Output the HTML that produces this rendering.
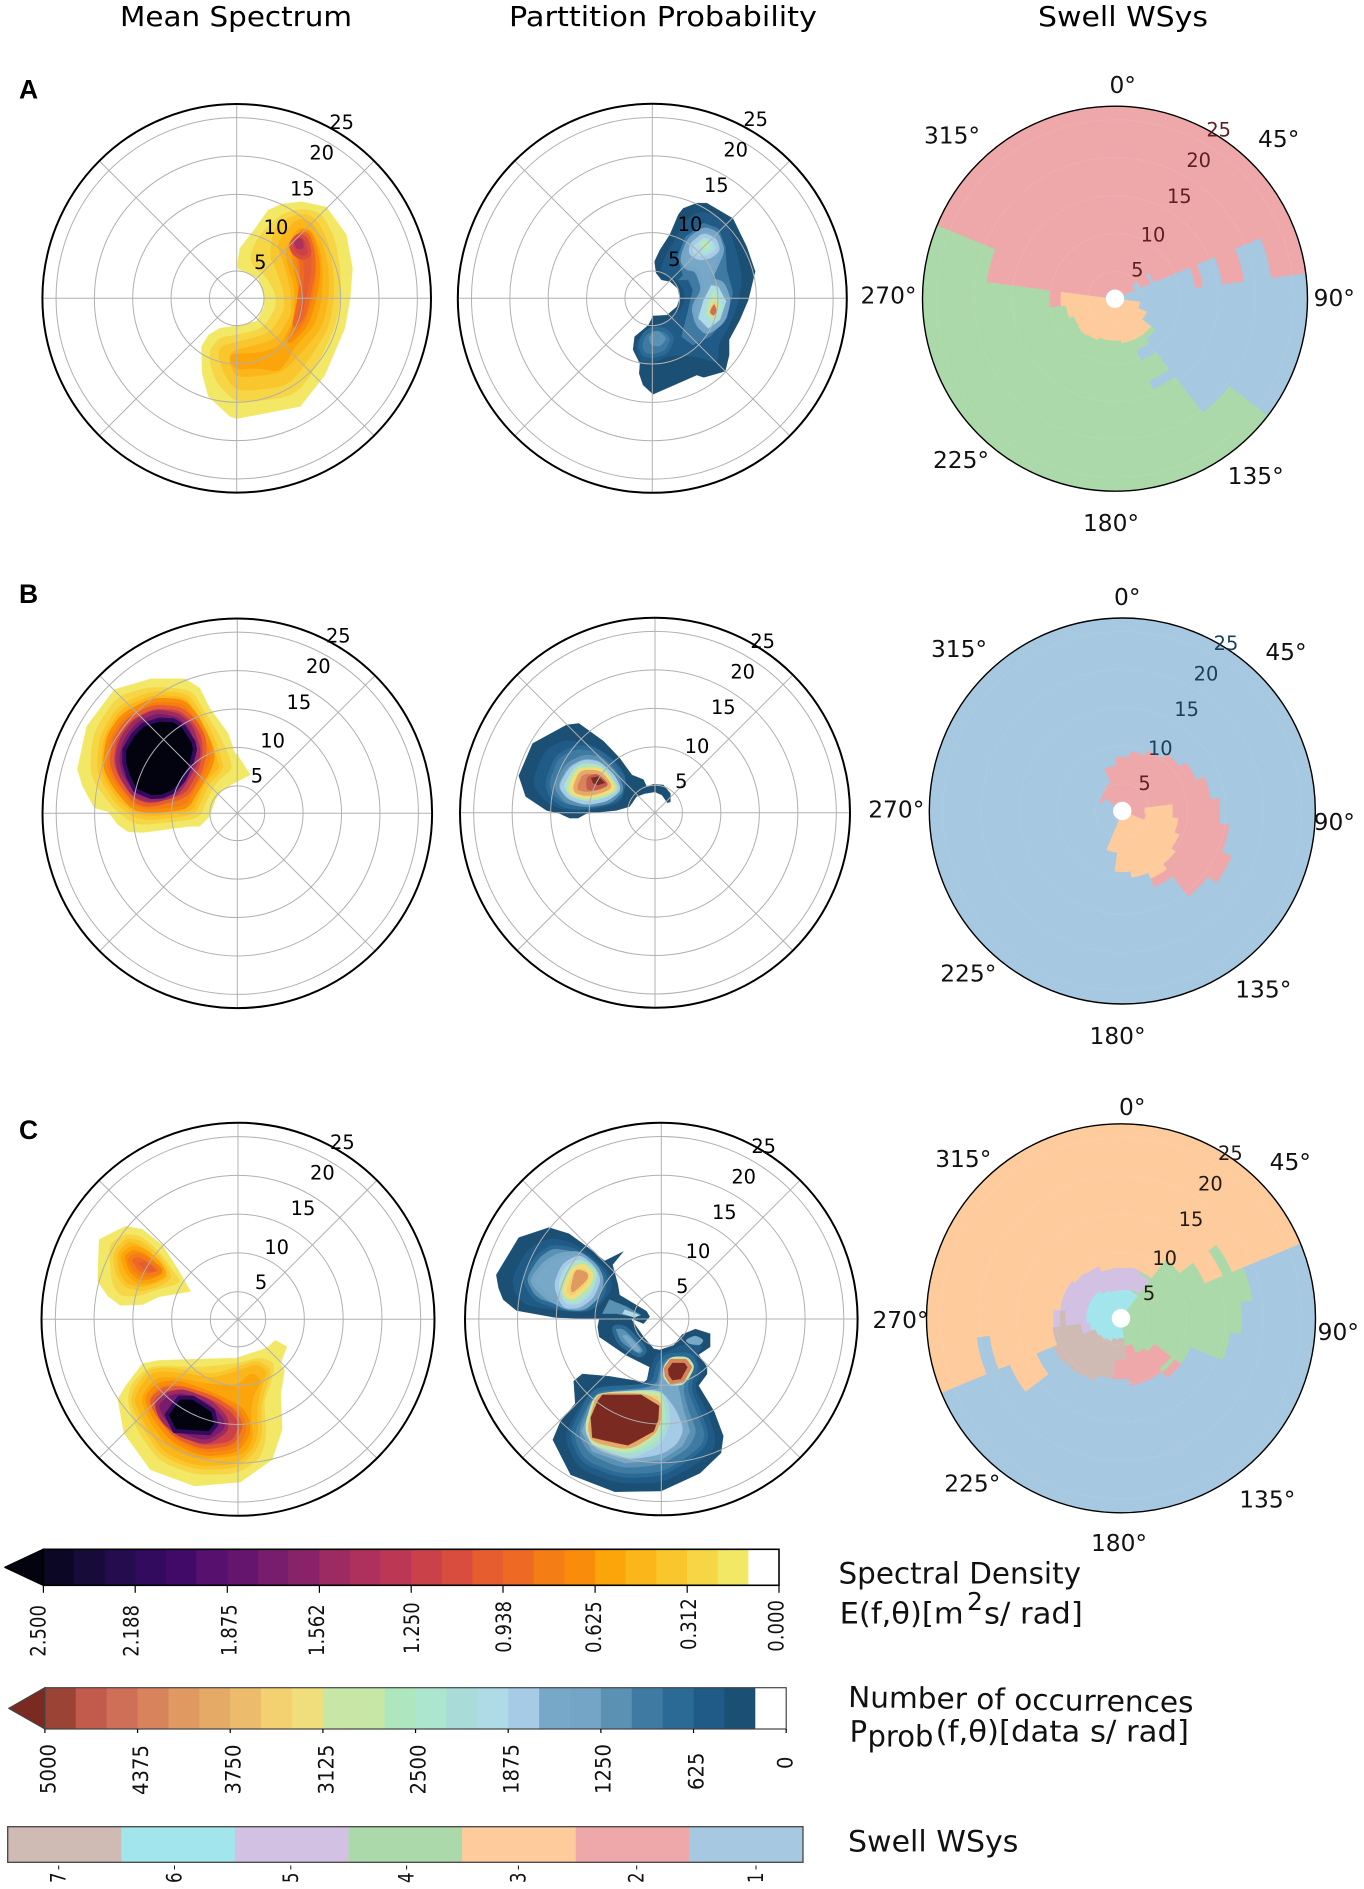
<!DOCTYPE html>
<html lang="en">
<head>
<meta charset="utf-8">
<title>Mean Spectrum, Partition Probability and Swell Wave Systems</title>
<style>
  html, body { margin: 0; padding: 0; background: #fff; }
  svg { display: block; font-family: "DejaVu Sans", "Liberation Sans", sans-serif; }
</style>
</head>
<body>
<svg id="figure" xmlns="http://www.w3.org/2000/svg" width="1364" height="1889" viewBox="0 0 1364 1889">
  <rect x="0" y="0" width="1364" height="1889" fill="#ffffff"/>
  <g id="panels"></g>
  <g id="colorbars"></g>

  <text x="120" y="26" font-size="28" textLength="232" lengthAdjust="spacingAndGlyphs">Mean Spectrum</text>
  <text x="509" y="26" font-size="28" textLength="308" lengthAdjust="spacingAndGlyphs">Parttition Probability</text>
  <text x="1038" y="26" font-size="28" textLength="170" lengthAdjust="spacingAndGlyphs">Swell WSys</text>

  <g font-family="'Liberation Sans', sans-serif" font-weight="700" font-size="26.5">
    <text x="19" y="98.3">A</text>
    <text x="19" y="603">B</text>
    <text x="19" y="1139">C</text>
  </g>

  <g font-size="29" fill="#111">
    <text x="838.5" y="1583.3" textLength="242.5" lengthAdjust="spacingAndGlyphs">Spectral Density</text>
    <g>
      <text x="839.6" y="1623.3" textLength="124" lengthAdjust="spacingAndGlyphs">E(f,θ)[m</text>
      <text x="967" y="1610" font-size="25">2</text>
      <text x="984" y="1623.3" textLength="98.8" lengthAdjust="spacingAndGlyphs">s/ rad]</text>
    </g>
    <text x="848" y="1707" transform="rotate(0.9 848 1707)" textLength="345.4" lengthAdjust="spacingAndGlyphs">Number of occurrences</text>
    <g>
      <text x="849.6" y="1741.7">P</text>
      <text x="867.5" y="1746.7" textLength="65.9" lengthAdjust="spacingAndGlyphs">prob</text>
      <text x="935.7" y="1741.7" textLength="253.3" lengthAdjust="spacingAndGlyphs">(f,θ)[data s/ rad]</text>
    </g>
    <text x="848" y="1851.7" textLength="170.4" lengthAdjust="spacingAndGlyphs">Swell WSys</text>
  </g>
</svg>

<script>
/* ---------- axis values ---------- */
const radialTicks = [5, 10, 15, 20, 25];
const angleTicks = [0, 45, 90, 135, 180, 225, 270, 315];
const V_ORIGIN = 1.44;
const V_SPAN = 25.34;
const V_HOLE = 2.65;

/* ---------- colour scales ---------- */
const bandsE = ['#0b0724','#160b39','#240c4f','#320a5e','#420a68','#57106e','#65156e','#781c6d','#892369','#9c2a63','#ae305c','#bb3754','#cb4149','#d94d3e','#e65d2f','#ee6a24','#f57d15','#f98c0a','#fca50a','#fbb61a','#fac62d','#f6d645','#f2e866','#ffffff'];
const bandsP = ['#9b4436','#c25b4c','#d06f58','#d8835c','#e09960','#e5aa66','#ecbc6c','#f3d070','#f0dd7c','#c8e6a6','#c6e7a6','#aee6bd','#ace6cf','#a9dcd8','#aedbe6','#a6cbe6','#78a8c8','#74a5c6','#5b92b4','#3f7aa3','#2a6a95','#1f5b86','#1b4f73','#ffffff'];
const maxE = 2.5;
const maxP = 5000;
const extendE = '#02030f';
const extendP = '#7a2a20';
const ticksE = [2.5, 2.188, 1.875, 1.562, 1.25, 0.938, 0.625, 0.312, 0];
const tickLabelsE = ['2.500','2.188','1.875','1.562','1.250','0.938','0.625','0.312','0.000'];
const ticksP = [5000, 4375, 3750, 3125, 2500, 1875, 1250, 625, 0];
const tickLabelsP = ['5000','4375','3750','3125','2500','1875','1250','625','0'];
const partitionIds = [7, 6, 5, 4, 3, 2, 1];
const partitionColors = {1:'#a6c8e0', 2:'#eea8aa', 3:'#fecb9d', 4:'#acd9a9', 5:'#d2c1e2', 6:'#a2e5ec', 7:'#d0bab4'};

/* ---------- contour levels: v = level, pts = east,north pairs (period units) ---------- */
const spectrumA = [
 {v:.15, pts:[0.1,4.6, 0.4,6.5, 2.4,9.1, 4.1,11.5, 5.9,12.3, 8.5,12.6, 11.7,11.9, 14.3,8.3, 15.1,3.9, 14.8,0, 14.1,-3.9, 11.5,-10, 8.3,-14.1, 0,-15.7, -0.9,-15.4, -3.7,-12.8, -4.5,-9.8, -4.6,-6.3, -3.7,-4.8, -2.2,-3.9, 0,-3.6, 2.6,-3, 3.6,-1.1, 3.6,0.2, 2.8,2.6, 1.5,3.3, 0.1,3.9]},
 {v:.26, pts:[1.7,5.4, 2.6,7.6, 3.9,9.3, 6.1,11.1, 8.5,11.7, 11.1,11.1, 12.8,7.8, 13.5,3.9, 13.6,0, 12.8,-3.9, 10,-9.6, 7.4,-12.8, 0,-13.7, -2.6,-11.1, -3.5,-8.5, -3.5,-6.7, -2.2,-5.1, 0,-4.8, 3.5,-3.9, 5.2,-1.1, 5,0.7, 3.9,2.8, 2.2,4.1]},
 {v:.36, pts:[4.3,5.4, 4.8,8.9, 6.5,10.4, 8.5,11.1, 10.4,10.4, 12,7.2, 12.6,3.7, 12.7,0, 12,-3.9, 9.1,-8.5, 6.5,-11.5, 0,-12.2, -1.7,-9.8, -2.4,-7.6, -2.2,-6.3, 0,-5.7, 4.3,-4.6, 6.3,-1.5, 6.1,1.1, 5,4.1]},
 {v:.47, pts:[5.2,7.2, 7.4,10, 8.5,10.4, 10,9.8, 11.3,7, 12,3.7, 12,0, 11.1,-3.9, 8,-7.6, 5.7,-9.8, 0,-10.4, -0.9,-8.5, -0.9,-7.2, 0,-6.7, 5.2,-5.4, 7.2,-2, 7,1.5, 6.1,4.6]},
 {v:.57, pts:[6.3,6.3, 8,9.3, 9.8,8.9, 10.9,6.3, 11.2,3.5, 11.1,0, 10.2,-3.5, 7.6,-6.3, 6.5,-8.3, 5.4,-9.6, 2.6,-9.1, 0,-9.3, -0.9,-8.3, -0.7,-7.2, 2.6,-7.2, 5.7,-6.3, 7.4,-2.8, 7.6,1.5, 6.7,4.1]},
 {v:.78, pts:[7.4,6.7, 8.5,8.9, 9.6,8.5, 10.4,5.9, 10.7,3.5, 10.2,0, 9.1,-3.5, 6.5,-6.1, 8,-2.4, 8.3,1.5, 7.6,4.1]},
 {v:.99, pts:[7.8,7, 8.3,8.5, 9.3,8.3, 10,5.9, 10,3.3, 9.3,0, 8.7,-2.4, 7.4,-3.9, 8,-1.1, 8.5,2, 8.5,4.6]},
 {v:1.2, pts:[7,7, 8,8.3, 9.1,7.8, 9.6,5.7, 8.5,5.2, 7.4,5.9]},
 {v:1.41, pts:[7.4,7.4, 8.5,8, 8.8,6.5, 7.8,6.4]}
];
const probabilityA = [
 {v:312, pts:[0.3,4.8, 1,6.3, 2.3,8.3, 3.4,10.9, 4,11.7, 5.8,12.4, 7.1,12.4, 10.5,10.4, 12.3,6.7, 13.4,3.5, 12.5,-0.2, 11.4,-2.8, 10,-5.4, 10,-7.4, 9.5,-9.5, 6.7,-10.3, 5.8,-10, 0.1,-12.5, -1.2,-11.3, -1.7,-9.8, -1.6,-8.5, -2.5,-6.7, -2.3,-5, -0.5,-3.5, 0.1,-2.3, 1.9,-2.2, 3.2,-1.1, 3.6,0, 3.3,1.3, 2.3,2.2, 1.2,2.4, 0.5,3.3]},
 {v:520, pts:[1.1,3.9, 1.9,5.9, 3.2,8, 4.3,10.2, 6,11.3, 8.4,10.9, 10.1,8.9, 11,5.9, 11.7,2.8, 11.2,-0.7, 9.9,-3.9, 8.6,-5.9, 8.6,-8.5, 5.8,-7.6, 2.3,-7.4, 0.1,-8.5, -1.6,-8.3, -2.3,-5.9, -0.3,-3.7, 2.3,-2.8, 4,-1.1, 4.3,0.7, 3.2,2.4, 1.4,3.3]},
 {v:937, pts:[-1.6,-6.1, -1.1,-4.7, 0.1,-3.9, 1.7,-4.1, 2.7,-5.2, 1.9,-7, 0.1,-7.6, -1.2,-7.3]},
 {v:937, pts:[3.4,2.4, 4,3, 3.3,5.4, 4.3,8, 6.7,9.8, 8.6,9.1, 9.5,6.7, 9.7,3.7, 10.5,0.7, 9.7,-2.6, 7.5,-5, 5.3,-6.1, 3.8,-5, 4.7,-1.5, 5.3,1.1, 4.7,2.4]},
 {v:1146, pts:[-0.5,-5, 0.6,-4.1, 1.9,-5.2, 1,-6.3, -0.2,-6.1]},
 {v:1562, pts:[3.8,5, 4.7,7.6, 6.7,9.1, 8.4,8.5, 9.2,6.3, 8.6,4.8, 7.5,2.4, 9.2,2, 10,-0.2, 9.3,-3, 7.1,-4.6, 5.8,-3.3, 5.3,-1.1, 6.7,1.1, 5.8,3.7, 4.5,3.9]},
 {v:1980, pts:[5.1,7, 6.7,8.3, 8.2,7.6, 8.6,6.3, 7.5,5.4, 6,5.2, 5,5.9]},
 {v:1980, pts:[6.7,-0.2, 7.7,1.7, 8.6,1.5, 9.6,-0.4, 8.8,-2.8, 7.3,-3.9, 6,-2.6]},
 {v:2396, pts:[6,7.2, 6.9,7.8, 7.7,7.2, 7.7,6.3, 6.7,5.9]},
 {v:2396, pts:[7.1,-0.7, 8,1.3, 8.6,0.7, 9.2,-1.1, 8.2,-3.3, 6.9,-2.2]},
 {v:3020, pts:[6.4,7.2, 7.1,7.4, 7.4,6.7, 6.7,6.5]},
 {v:3020, pts:[7.4,-0.7, 8,0.7, 8.7,-1.1, 8,-2.8, 7.2,-2]},
 {v:3437, pts:[7.6,-1.1, 8.2,-0.2, 8.6,-1.5, 8,-2.6, 7.3,-1.9]},
 {v:4479, pts:[7.7,-1.3, 8.1,-0.7, 8.4,-1.7, 8,-2.3, 7.5,-1.9]}
];
const spectrumB = [
 {v:.15, pts:[0,7.6, 1.7,5, -0.1,4.1, -2,3, -2.9,1.7, -3.6,-0.4, -4.9,-1.7, -6.2,-1.7, -12.3,-2.5, -14.2,-2.4, -15.5,-1.5, -16.8,0.2, -18.6,0.7, -20.1,3.5, -20.8,5.7, -19.6,11.3, -16,16.1, -11.2,17.5, -6.8,17.5, -4.9,16.3, -3.6,13.7, -1.2,10.4, -0.3,7.8]},
 {v:.26, pts:[-0.9,7, -0.7,5.7, -2.7,4.1, -4,1.7, -4.9,-0.7, -11.8,-1.5, -13.6,-1.3, -16.2,0.7, -19.2,4.8, -18.8,10.4, -15.7,15.2, -11.2,16.5, -6,16.1, -4.4,13.5, -2,9.6]},
 {v:.47, pts:[-2.3,7, -2,5.9, -3.8,4.1, -4.9,1.7, -5.7,0, -11.4,-0.7, -13.6,-0.2, -15.7,1.5, -18.1,5.2, -17.7,10, -15.3,13.9, -11,15.7, -6.6,15.4, -4.9,13, -3.1,9.6]},
 {v:.78, pts:[-3.1,7.4, -3.8,5.4, -5.3,3, -6.6,0.7, -11.4,0.2, -13.6,0.7, -16,3.5, -17.3,6.1, -16.8,10, -14.9,12.8, -11,14.8, -7,14.6, -5.3,12.6, -3.8,9.6]},
 {v:1.2, pts:[-4.2,7.8, -4.9,5.2, -6.6,2.2, -11.4,1, -13.3,1.5, -15.5,4.3, -16.4,6.5, -16,9.6, -14.2,12.2, -11,13.9, -7.5,13.7, -5.5,12, -4.4,10]},
 {v:1.72, pts:[-4.9,8, -5.7,5.9, -7.9,2.4, -11.2,1.5, -13.6,2.4, -15.3,5.2, -15.7,7.4, -14.9,10, -13.1,12.2, -10.5,13.3, -7.7,12.8, -6,11.3]},
 {v:2.6, pts:[-11.2,2.1, -13.3,3, -14.2,4.8, -14.7,6.5, -14.7,8.3, -13.6,10.2, -12.3,11.5, -10.1,12.2, -8.3,12.1, -7,11.3, -5.7,9.3, -5.5,8.3, -6,6.3, -7,4.3, -8.3,2.8, -9.7,2.2]}
];
const probabilityB = [
 {v:312, pts:[-17.7,4.8, -15.9,9, -11.5,11.4, -9.9,11.6, -6.7,9.3, -4.6,7.1, -3,4.9, -1.5,4.3, -1.1,3.4, -0.2,3.7, 1.1,3.6, 2,2.5, 2,1.4, 1.6,1.3, 0.9,2.3, 0,2.7, -1.3,2.5, -2.4,2.1, -3.3,0.8, -5,0.3, -8.9,-0.1, -10,-0.7, -11.1,-0.7, -12.4,-0.1, -14.1,0.3, -16.8,2.1]},
 {v:520, pts:[-16,4, -14.3,8.2, -11.7,9.5, -8.5,9, -5.2,6.9, -3.7,4.7, -4.3,1.2, -8.9,0.3, -12,0.3, -14.6,1.7]},
 {v:937, pts:[-14.1,3.8, -12.8,7.3, -10.2,8.6, -7.6,8.2, -5.4,6.4, -3.9,4.3, -4.6,1.7, -8.9,0.6, -11.7,0.8, -13.5,2.1]},
 {v:1562, pts:[-13,3.4, -11.5,6.2, -9.3,7.3, -7.2,7.1, -5.2,5.1, -4.2,3, -5.9,1.4, -8.9,0.9, -11.5,1.4]},
 {v:1980, pts:[-12.3,3.4, -10.9,5.8, -9.1,6.7, -7.2,6.4, -5.4,4.7, -4.6,3, -6.3,1.7, -8.9,1.2, -11.1,1.9]},
 {v:3020, pts:[-11.6,3.4, -10.4,5.6, -9.3,6.2, -7.2,6, -5.9,4.7, -4.9,3, -6.7,2.1, -8.9,1.7, -10.9,2.3]},
 {v:3437, pts:[-11.1,3.2, -10,5.6, -7.2,5.7, -6.3,4.7, -5.2,3.2, -6.7,2.4, -8.9,2, -10.7,2.5]},
 {v:4270, pts:[-10.4,3.4, -9.6,5.3, -7.2,5.3, -5.7,3.4, -7.2,2.7, -8.9,2.4, -10.2,2.7]},
 {v:4687, pts:[-8.9,4.7, -7.4,5.1, -5.9,3.6, -7.6,2.9, -8.9,2.9]},
 {v:5100, pts:[-8.3,4.5, -7.4,4.7, -6.5,3.9, -7.4,3.6, -8,3.8]}
];
const spectrumC = [
 {v:.15, pts:[-17.9,10.3, -14.5,12, -12.3,11.6, -9.7,9.5, -7.6,6.2, -6.1,3.6, -10.2,2.9, -12.3,1.9, -15.2,1.8, -16.8,3, -18.1,4.9]},
 {v:.26, pts:[-16.7,9.7, -14.5,11, -12.6,10.8, -10.2,8.8, -8.2,6, -7.3,4.7, -10.6,3.8, -12.8,3, -15.2,3, -16.3,4.7]},
 {v:.47, pts:[-15.9,8.6, -14.3,10.3, -12.6,9.9, -10.4,8.2, -8.7,5.6, -9.7,4.7, -12.3,3.8, -14.5,4.3, -15.6,6]},
 {v:.68, pts:[-15,8.2, -13.7,9.3, -11.9,8.8, -10.2,7.3, -9.3,5.8, -11,4.9, -12.8,4.7, -14.3,6]},
 {v:.89, pts:[-14.1,7.7, -13,8.4, -11.5,7.7, -9.7,6.2, -11.5,5.6, -13,6]},
 {v:.99, pts:[-13,7.3, -11.9,7.5, -10.4,6.2, -11.9,6.2]},
 {v:.15, pts:[-12.3,-5.7, -10.2,-5.3, -4.1,-5.1, -0.2,-5, 3.7,-3.7, 4.8,-2.7, 6.3,-3.5, 5.5,-5.7, 6,-6.6, 5.5,-9.7, 5.7,-14.2, 4.4,-18.1, 0.3,-21, -5.6,-21.5, -11.3,-19.4, -14.7,-14.7, -15.5,-10.3, -14.5,-8.6]},
 {v:.26, pts:[-11.9,-6.4, -10.2,-6, -5,-6.2, -2.8,-6, -0.2,-5.7, 2.9,-4.9, 4.8,-5.7, 4.2,-8.3, 3.3,-10.5, 3.7,-14.9, 2.9,-17.9, 0,-19.9, -5.4,-20.1, -10.2,-18.3, -13.2,-14, -14.3,-10.3, -13.7,-8.3]},
 {v:.47, pts:[-11.5,-6.8, -9.7,-6.4, -6.3,-6.8, -3.2,-7.3, -0.2,-6.4, 2.4,-5.5, 4.1,-6.6, 3.3,-8.8, 2.7,-11.4, 2.9,-14.9, 2,-17, -0.2,-19, -5.4,-19.2, -9.7,-17.5, -12.3,-13.6, -13.7,-10.5, -13,-8.8]},
 {v:.57, pts:[-10.6,-7.5, -8,-7.5, -4.1,-8.3, -0.2,-8.6, 1.8,-6.8, 3.1,-7.9, 2,-9.7, 1.6,-12.3, 2,-15.3, 0.7,-17.5, -5,-18.1, -8.9,-16.6, -11.5,-13.1, -12.6,-10.1]},
 {v:.78, pts:[-10.2,-8.3, -7.6,-8.1, -3.2,-9.7, 0.3,-11.4, 1.3,-13.1, 1.3,-14.9, -0.2,-17, -4.5,-17.5, -8.4,-15.7, -10.8,-12.7, -11.9,-10.1]},
 {v:1.2, pts:[-9.7,-9, -7.3,-8.8, -3.2,-10.1, -0.6,-11.8, 0.5,-13.6, -0.6,-16, -4.5,-16.6, -8,-15.1, -10.2,-12.5, -11.3,-10.5]},
 {v:1.72, pts:[-9.1,-9.6, -7.1,-9.2, -3.7,-10.5, -1.5,-12.7, -1.5,-14.4, -4.1,-16, -7.6,-14.9, -9.7,-13.1, -10.6,-11]},
 {v:2.6, pts:[-7.6,-10.1, -5.8,-10.1, -3.2,-11.8, -2.8,-13.6, -3.7,-14.7, -8.2,-14.4, -9.2,-12.3]}
];
const probabilityC = [
 {v:312, pts:[-21.3,5.7, -18.4,10.5, -14.5,11.8, -11.9,11, -9.7,9.4, -7.3,7.5, -4.9,8.7, -6.3,7, -5.6,4.4, -5.4,3.1, -1.9,1, -1.5,0.3, -2.3,-0.6, -3.7,0, -8.4,0, -13.7,0.2, -18.7,1.1, -20.4,2.5, -21,4]},
 {v:520, pts:[-19.3,5.3, -17.3,9, -14.5,10.5, -11.5,9.9, -8.9,8.1, -6.7,6, -6.3,3.8, -8.4,1.2, -13.2,1, -17.6,1.8, -18.9,3.3]},
 {v:1146, pts:[-17.8,5.1, -16,8.1, -14.1,9.4, -11.3,9, -8.9,7.5, -7.1,5.5, -7.6,2.9, -9.3,1.2, -12.3,1.2, -16.3,2.5]},
 {v:1146, pts:[-6.7,2.5, -4.5,1.6, -2.6,0.5, -3.7,0.3, -5.8,0.7, -7.6,0.7]},
 {v:1562, pts:[-16.9,4.9, -15,7.3, -13.2,8.3, -10.6,8.6, -8.4,6.8, -7.6,5.1, -8.2,2.9, -10,1.3, -12.3,1.4, -15,2.9]},
 {v:1980, pts:[-13.7,4.4, -12.6,7, -10.6,8.1, -8.9,6.8, -8,5.1, -8.9,2.9, -10.6,1.6, -12.6,1.6]},
 {v:1980, pts:[-4.7,1.2, -2.8,0.5, -3.4,0.2, -5,0.7]},
 {v:3020, pts:[-13,4, -11.7,6.8, -10.2,7.5, -8.4,6, -9.1,4, -11,2.3, -12.3,2.5]},
 {v:3437, pts:[-12.6,3.6, -11.5,6.4, -10,7, -8.9,5.7, -9.5,4.2, -11.7,2.5]},
 {v:4062, pts:[-11.7,4, -11.1,6.5, -9.5,6, -9.5,5.1, -11.5,3.3]},
 {v:312, pts:[-8,0, -3.9,0, -2.3,-2.3, -1,-3.8, -1.5,-6.2, -4.5,-4.7, -8,-2.3, -8.2,-1]},
 {v:1146, pts:[-6.3,-1, -4.7,-1, -1.9,-4, -2.8,-4.9, -5.4,-3.2]},
 {v:1562, pts:[-5.2,-2.1, -4.3,-2.1, -2.6,-4, -3.2,-4.3]},
 {v:312, pts:[-11.3,-8, -10.2,-7.1, -6.7,-7.4, -1.9,-8.2, -1.5,-6.2, -1.3,-3.8, -0.2,-4, 1.6,-3.4, 2.7,-2, 4.4,-1.3, 6.3,-1.9, 6.3,-3.6, 4.8,-4.6, 5.9,-6.2, 5.9,-7.1, 4.8,-8.6, 6.8,-11.9, 8,-15.1, 7.7,-17.3, 5,-19.9, 0,-22.2, -6,-22.3, -11.7,-20.1, -14,-15.6, -13,-13.2, -11.1,-10.9]},
 {v:520, pts:[-12.6,-15.1, -10.4,-11, -8.4,-8.6, -1.9,-8.6, -0.8,-4.5, 0.7,-4.3, 2.9,-3.2, 5.5,-3.4, 4.4,-4.9, 5.3,-6.7, 4.2,-8.8, 5.9,-11.9, 7,-15.1, 6.8,-16.9, 4.2,-19, 0,-21.2, -5.8,-21.2, -10.8,-19.3]},
 {v:937, pts:[-11.7,-14.9, -9.3,-10.1, -8,-9, -1,-8.6, -0.4,-5.8, 0.7,-4.7, 3.7,-4.5, 4.6,-6.2, 3.5,-8.8, 4.8,-11.9, 5.9,-14.7, 5.5,-16.4, 3.3,-18.2, 0,-20.1, -5.4,-20.3, -10.2,-18.4]},
 {v:1146, pts:[-10.8,-14.7, -9.1,-10.6, -7.8,-9.5, -0.6,-8.8, 0,-6.2, 1.1,-5.1, 3.5,-5.1, 4.1,-6.4, 2.7,-8.8, 3.5,-11.9, 4.6,-14.5, 3.5,-16.7, 0,-18.8, -5,-19.3, -9.3,-17.5]},
 {v:1562, pts:[3.1,-2.7, 4.4,-2.1, 5.5,-2.7, 5,-3.4, 3.5,-3.2]},
 {v:1562, pts:[3.7,-14.5, 2.7,-16.4, 0,-18.2, -4.7,-18.6, -8.9,-17.1, -10.3,-14.5, -8.7,-10.6, -7.6,-9.7, -0.4,-9, 0.3,-6.4, 1.3,-5.3, 3.2,-5.3, 3.7,-6.4, 2.2,-8.8, 2.9,-11.9]},
 {v:1770, pts:[2.9,-14.3, 2,-16.2, 0,-17.5, -4.5,-18.2, -8.7,-16.7, -10,-14.3, -8.5,-10.6, -7.3,-9.7, -0.3,-9.2, 0.7,-10.1, 2,-11.9]},
 {v:2604, pts:[0.7,-14, -0.4,-16.2, -4.1,-17.9, -8.7,-16.4, -9.7,-14, -8.4,-10.6, -7.3,-9.7, -0.2,-9.3, 0.7,-11, 0.9,-13.2]},
 {v:3437, pts:[-9.7,-14, -8.7,-10.6, -7.8,-9.7, -0.2,-9.5, 0,-11, -0.4,-14, -1,-15.1, -4.1,-17.1, -8.7,-16.2]},
 {v:4270, pts:[-9.3,-14, -8.4,-10.6, -7.7,-9.8, -2.3,-9.8, -0.1,-11, -0.3,-13.2, -1,-14.8, -4.2,-16.7, -8.8,-15.7]},
 {v:1980, pts:[0.3,-6.4, 1.3,-5.3, 3.4,-5.3, 3.9,-6.3, 2.7,-8.5, 1.1,-8.6, 0.3,-7.5]},
 {v:3437, pts:[0.5,-6.2, 1.3,-5.1, 3.3,-5.1, 4.1,-6.2, 2.9,-8.2, 1.3,-8.4, 0.5,-7.5]},
 {v:5100, pts:[0.6,-6.4, 1.3,-5.4, 3.1,-5.4, 3.7,-6.2, 2.7,-8, 1.3,-8.2, 0.7,-7.3]},
 {v:5100, pts:[-9.1,-12.7, -8.2,-10.6, -7.6,-9.8, -2.6,-9.8, -0.3,-11.2, -0.4,-13, -1,-14.5, -4.3,-16.3, -8.9,-15.3]}
];

/* ---------- partition meshes: one list per 15 degree direction bin, each run = [partition id, outer period] ---------- */
const swellA = [
 [[2,27]],[[2,27]],[[2,27]],[[2,27]],
 [[2,4.3],[1,5.13],[2,6.57],[1,7],[2,27]],
 [[1,12.13],[2,13.17],[1,15.7],[2,18.6],[1,22.2],[2,27]],
 [[1,27]],
 [[3,4.8],[1,27]],
 [[3,6],[1,27]],
 [[3,7.43],[4,8.17],[1,20.4],[4,27]],
 [[3,7.43],[4,8.83],[1,10.3],[4,13.17],[1,14.39],[4,27]],
 [[3,7.39],[4,27]],
 [[3,7],[4,27]],
 [[3,7],[4,27]],
 [[3,7.4],[4,27]],
 [[3,7.6],[4,27]],
 [[3,7.4],[4,27]],
 [[3,8],[4,27]],
 [[3,8.65],[2,10.17],[4,27]],
 [[2,18.5],[4,27]],
 [[2,27]],[[2,27]],[[2,27]],[[2,27]]
];
const swellB = [
 [[2,8.6],[1,27]],
 [[2,9.35],[1,27]],
 [[2,10.13],[1,27]],
 [[2,11],[1,27]],
 [[2,12],[1,27]],
 [[2,13.17],[1,27]],
 [[2,4.4],[3,8.1],[2,14.3],[1,27]],
 [[2,4.57],[3,8.9],[2,15.65],[1,27]],
 [[3,9.57],[2,17],[1,27]],
 [[3,10.26],[2,15.65],[1,27]],
 [[3,11.1],[2,12.3],[1,27]],
 [[3,10.3],[1,27]],
 [[3,9.5],[1,27]],
 [[3,7],[1,27]],
 [[1,27]],[[1,27]],[[1,27]],[[1,27]],[[1,27]],[[1,27]],
 [[1,4.2],[2,4.7],[1,27]],
 [[2,4.9],[1,27]],
 [[2,5.35],[1,27]],
 [[2,7.5],[1,27]]
];
const swellC = [
 [[6,5.13],[5,8.04],[3,27]],
 [[6,5.26],[5,8.17],[3,27]],
 [[6,5.13],[4,5.43],[5,7.65],[4,8.04],[3,27]],
 [[4,11.09],[3,27]],
 [[4,13.3],[3,15.83],[4,17.13],[3,27]],
 [[4,18.74],[1,27]],
 [[4,17.2],[1,27]],
 [[4,15.8],[1,27]],
 [[4,11.3],[1,27]],
 [[4,6.96],[2,9.7],[4,10.3],[2,11.3],[1,27]],
 [[4,6.4],[2,10.26],[1,27]],
 [[4,5.1],[2,10.3],[1,27]],
 [[6,4.04],[7,6.9],[2,9.43],[1,27]],
 [[6,4.26],[7,9.43],[1,27]],
 [[6,4.7],[7,10.35],[1,27]],
 [[6,4.9],[7,10.65],[1,27]],
 [[6,5.13],[7,11],[1,13.4],[3,17.17],[1,27]],
 [[6,5.6],[5,6.78],[7,10.48],[3,18.74],[1,20.43],[3,27]],
 [[6,6],[5,8.74],[7,9.43],[5,10.3],[3,27]],
 [[6,6],[5,9.48],[3,27]],
 [[6,6],[5,9.5],[3,27]],
 [[6,6],[5,9.04],[3,27]],
 [[6,5.43],[5,8.83],[3,27]],
 [[6,5.13],[5,8.04],[3,27]]
];

/* ---------- layout ---------- */
const NS = 'http://www.w3.org/2000/svg';
const RLABEL_BASE = {5:[22.3,-35.3], 10:[38,-70.3], 15:[64.3,-109], 20:[83.7,-144.7], 25:[103.7,-175.3]};
const panelsLayout = [
 {name:'a-spectrum', kind:'E', data:spectrumA, cx:236.7, cy:298.3, R:194.3, shift:[1.3,-.5]},
 {name:'a-probability', kind:'P', data:probabilityA, cx:652.3, cy:298.3, R:194.5, shift:[-.3,-3.7]},
 {name:'a-swell', kind:'S', data:swellA, cx:1115, cy:298.7, R:192.5, shift:[0,6.7], labelColor:()=>'#5c1f22',
  angleOffsets:[[7.7,-213],[163.7,-159.3],[219.3,0],[140.7,178],[-4,224.7],[-154,162],[-226.5,-2.7],[-163,-162.7]]},
 {name:'b-spectrum', kind:'E', data:spectrumB, cx:237.3, cy:813.3, R:194.8, shift:[-2.7,-2]},
 {name:'b-probability', kind:'P', data:probabilityB, cx:655, cy:812.7, R:195, shift:[4,4]},
 {name:'b-swell', kind:'S', data:swellB, cx:1122.3, cy:811, R:193, shift:[0,7.7], labelColor:t=>t===5?'#5c1f22':'#1c3f5a',
  angleOffsets:[[5,-213.7],[163.7,-158.3],[212,11.7],[141,179],[-4.7,225.7],[-154,163],[-226,-1],[-163.3,-161.7]]},
 {name:'c-spectrum', kind:'E', data:spectrumC, cx:238, cy:1319.3, R:196.5, shift:[.7,-1.7]},
 {name:'c-probability', kind:'P', data:probabilityC, cx:661.3, cy:1319, R:196.3, shift:[-1.3,2.7]},
 {name:'c-swell', kind:'S', data:swellC, cx:1121, cy:1318.3, R:194.5, shift:[5.7,10.3], labelColor:()=>'#221a14',
  angleOffsets:[[11.3,-211],[169.3,-155.7],[217.3,14.3],[146.3,181.7],[-2,225],[-148.7,165.7],[-220.5,2],[-157.7,-159]]}
];

function make(tag, attrs, parent, text) {
  const node = document.createElementNS(NS, tag);
  for (const key in attrs) node.setAttribute(key, attrs[key]);
  if (text !== undefined) node.textContent = text;
  parent.appendChild(node);
  return node;
}
function colorE(v) {
  if (v > maxE) return extendE;
  const step = maxE / bandsE.length;
  return bandsE[Math.max(0, bandsE.length - 1 - Math.floor(v / step))];
}
function colorP(v) {
  if (v > maxP) return extendP;
  const step = maxP / bandsP.length;
  return bandsP[Math.max(0, bandsP.length - 1 - Math.floor(v / step))];
}
function makeAxis(p) {
  const k = p.R / V_SPAN;
  return {
    x: e => p.cx + k * e,
    y: n => p.cy - k * n,
    r: v => Math.max(0, k * (Math.min(v, V_ORIGIN + V_SPAN) - V_ORIGIN)),
    px: (rad, deg) => p.cx + rad * Math.sin(deg * Math.PI / 180),
    py: (rad, deg) => p.cy - rad * Math.cos(deg * Math.PI / 180)
  };
}
function wedgePath(ax, deg, half, r0, r1) {
  const a0 = deg - half, a1 = deg + half;
  const f = n => n.toFixed(2);
  return 'M' + f(ax.px(r0, a0)) + ' ' + f(ax.py(r0, a0)) +
    'L' + f(ax.px(r1, a0)) + ' ' + f(ax.py(r1, a0)) +
    'A' + f(r1) + ' ' + f(r1) + ' 0 0 1 ' + f(ax.px(r1, a1)) + ' ' + f(ax.py(r1, a1)) +
    'L' + f(ax.px(r0, a1)) + ' ' + f(ax.py(r0, a1)) +
    'A' + f(r0) + ' ' + f(r0) + ' 0 0 0 ' + f(ax.px(r0, a0)) + ' ' + f(ax.py(r0, a0)) + 'Z';
}
/* contour outline: sharp for outermost/saturated levels, softly rounded corners otherwise */
function contourPath(ax, pts, rounded) {
  const P = [];
  for (let i = 0; i < pts.length; i += 2) P.push([ax.x(pts[i]), ax.y(pts[i + 1])]);
  const f = n => n.toFixed(2);
  if (!rounded) return 'M' + P.map(q => f(q[0]) + ' ' + f(q[1])).join('L') + 'Z';
  let d = '';
  const t = 0.35;
  P.forEach(function (V, i) {
    const A = P[(i + P.length - 1) % P.length], B = P[(i + 1) % P.length];
    const sx = V[0] + t * (A[0] - V[0]), sy = V[1] + t * (A[1] - V[1]);
    const ex = V[0] + t * (B[0] - V[0]), ey = V[1] + t * (B[1] - V[1]);
    d += (i ? 'L' : 'M') + f(sx) + ' ' + f(sy) + 'Q' + f(V[0]) + ' ' + f(V[1]) + ' ' + f(ex) + ' ' + f(ey);
  });
  return d + 'Z';
}
function bboxMin(pts) {
  let a = Infinity, b = -Infinity, c = Infinity, d = -Infinity;
  for (let i = 0; i < pts.length; i += 2) {
    a = Math.min(a, pts[i]); b = Math.max(b, pts[i]);
    c = Math.min(c, pts[i + 1]); d = Math.max(d, pts[i + 1]);
  }
  return Math.min(b - a, d - c);
}

const panelsRoot = document.getElementById('panels');
panelsLayout.forEach(function (p) {
  const ax = makeAxis(p);
  const g = make('g', {}, panelsRoot);
  
  

  if (p.kind === 'S') {
    const binWidth = 360 / p.data.length;
    p.data.forEach(function (runs, bin) {
      let inner = V_ORIGIN;
      runs.forEach(function (run) {
        const fill = partitionColors[run[0]];
        const cell = make('path', {d: wedgePath(ax, bin * binWidth, binWidth / 2, ax.r(inner), ax.r(run[1])), fill: fill, stroke: fill, 'stroke-width': 0.5}, g);
        
        
        inner = run[1];
      });
    });
    radialTicks.forEach(function (t) {
      const ring = make('circle', {cx: p.cx, cy: p.cy, r: ax.r(t), fill: 'none', stroke: '#ffffff', 'stroke-opacity': 0.07, 'stroke-width': 1}, g);
      
      
    });
    const hole = make('circle', {cx: p.cx, cy: p.cy, r: ax.r(V_HOLE), fill: '#ffffff'}, g);
    
    
  } else {
    const colorFn = p.kind === 'E' ? colorE : colorP;
    const maxV = p.kind === 'E' ? maxE : maxP;
    const oneBand = maxV / 24;
    p.data.forEach(function (level, i) {
      const prev = i > 0 ? p.data[i - 1] : null;
      const nested = !!prev && prev.v < level.v;
      const fill = colorFn(level.v);
      let stroke = fill, sw = 0.4;
      if (nested && level.v - prev.v > oneBand * 1.5 && bboxMin(level.pts) > 2.2) {
        stroke = colorFn((level.v + prev.v) / 2);
        sw = 4;
      }
      const rounded = nested && level.v <= maxV;
      const poly = make('path', {d: contourPath(ax, level.pts, rounded), fill: fill, stroke: stroke, 'stroke-width': sw, 'stroke-linejoin': 'round'}, g);
      
      
    });
    radialTicks.forEach(function (t) {
      const ring = make('circle', {cx: p.cx, cy: p.cy, r: ax.r(t), fill: 'none', stroke: '#b0b0b0', 'stroke-width': 1}, g);
      
      
    });
    angleTicks.forEach(function (deg) {
      const spoke = make('line', {x1: p.cx, y1: p.cy, x2: ax.px(p.R, deg), y2: ax.py(p.R, deg), stroke: '#b0b0b0', 'stroke-width': 1}, g);
      
      
    });
  }

  const border = make('circle', {cx: p.cx, cy: p.cy, r: p.R, fill: 'none', stroke: '#000000', 'stroke-width': p.kind === 'S' ? 1.4 : 2}, g);
  
  

  radialTicks.forEach(function (t) {
    const base = RLABEL_BASE[t];
    const label = make('text', {
      x: p.cx + base[0] + p.shift[0], y: p.cy + base[1] + p.shift[1],
      'text-anchor': 'middle', 'dominant-baseline': 'central', 'font-size': 19.4,
      fill: p.labelColor ? p.labelColor(t) : '#000000'
    }, g, String(t));
    
    
  });

  if (p.angleOffsets) {
    angleTicks.forEach(function (deg, i) {
      const label = make('text', {
        x: p.cx + p.angleOffsets[i][0], y: p.cy + p.angleOffsets[i][1],
        'text-anchor': 'middle', 'dominant-baseline': 'central', 'font-size': 23.3, fill: '#111111'
      }, g, deg + '°');
      
      
    });
  }
});

/* ---------- colourbars ---------- */
const barsRoot = document.getElementById('colorbars');
const barsLayout = [
 {name:'spectral-density', bands:bandsE, max:maxE, ticks:ticksE, labels:tickLabelsE, extend:extendE,
  x0:43.4, x1:779, y0:1549.3, y1:1585.3, tip:5, border:'#000000', bw:1.6, tick:7.5, fs:21, perChar:10.34,
  labelX:[38.3,131.6,229.6,317,412,504,594,689,776.5],
  labelBottom:[1656.7,1656.7,1656,1656,1654,1652.7,1653,1650,1651.7]},
 {name:'occurrences', bands:bandsP, max:maxP, ticks:ticksP, labels:tickLabelsP, extend:extendP,
  x0:44.9, x1:786.2, y0:1687.7, y1:1729, tip:8.7, border:'#444444', bw:1.2, tick:4, fs:21, perChar:12.5,
  labelX:[48.5,141,233.7,326.5,418.4,511.7,603.6,696.4,785.7],
  labelBottom:[1794,1795,1794.5,1794.5,1794.5,1794,1794,1790,1769]}
];
barsLayout.forEach(function (b) {
  const g = make('g', {}, barsRoot);
  
  
  const w = (b.x1 - b.x0) / b.bands.length;
  const xScale = v => b.x1 - (v / b.max) * (b.x1 - b.x0);
  const mid = (b.y0 + b.y1) / 2;
  const arrow = make('polygon', {points: b.x0 + ',' + b.y0 + ' ' + b.tip + ',' + mid + ' ' + b.x0 + ',' + b.y1, fill: b.extend, stroke: b.border, 'stroke-width': b.bw, 'stroke-linejoin': 'round'}, g);
  
  
  b.bands.forEach(function (c, i) {
    const band = make('rect', {x: b.x0 + i * w, y: b.y0, width: w + 0.3, height: b.y1 - b.y0, fill: c}, g);
    
    
  });
  const frame = make('rect', {x: b.x0, y: b.y0, width: b.x1 - b.x0, height: b.y1 - b.y0, fill: 'none', stroke: b.border, 'stroke-width': b.bw}, g);
  
  
  b.ticks.forEach(function (v, i) {
    const tk = make('line', {x1: xScale(v), x2: xScale(v), y1: b.y1, y2: b.y1 + b.tick, stroke: '#000000', 'stroke-width': 1.2}, g);
    
    
    const lx = b.labelX[i], ly = b.labelBottom[i];
    const label = make('text', {x: lx, y: ly, transform: 'rotate(-90 ' + lx + ' ' + ly + ')', 'dominant-baseline': 'central', 'font-size': b.fs, fill: '#111111', textLength: (b.labels[i].length * b.perChar).toFixed(1), lengthAdjust: 'spacingAndGlyphs'}, g, b.labels[i]);
    
    
  });
});

const cat = {x0: 7.7, x1: 803, y0: 1826.7, y1: 1862.3, labelX: [58.7,174.5,290.8,406.6,518.4,636.7,756]};
const catGroup = make('g', {}, barsRoot);


const catW = (cat.x1 - cat.x0) / partitionIds.length;
partitionIds.forEach(function (id, i) {
  const cell = make('rect', {x: cat.x0 + i * catW, y: cat.y0, width: catW + 0.3, height: cat.y1 - cat.y0, fill: partitionColors[id]}, catGroup);
  
  
  const tk = make('line', {x1: cat.labelX[i], x2: cat.labelX[i], y1: 1865.5, y2: 1869.5, stroke: '#111111', 'stroke-width': 1}, catGroup);
  
  
  const lx = cat.labelX[i], ly = 1883;
  const label = make('text', {x: lx, y: ly, transform: 'rotate(-90 ' + lx + ' ' + ly + ')', 'dominant-baseline': 'central', 'font-size': 21, fill: '#111111', textLength: 10.5, lengthAdjust: 'spacingAndGlyphs'}, catGroup, String(id));
  
  
});
const catFrame = make('rect', {x: cat.x0, y: cat.y0, width: cat.x1 - cat.x0, height: cat.y1 - cat.y0, fill: 'none', stroke: '#444444', 'stroke-width': 1.3}, catGroup);


</script>
</body>
</html>
